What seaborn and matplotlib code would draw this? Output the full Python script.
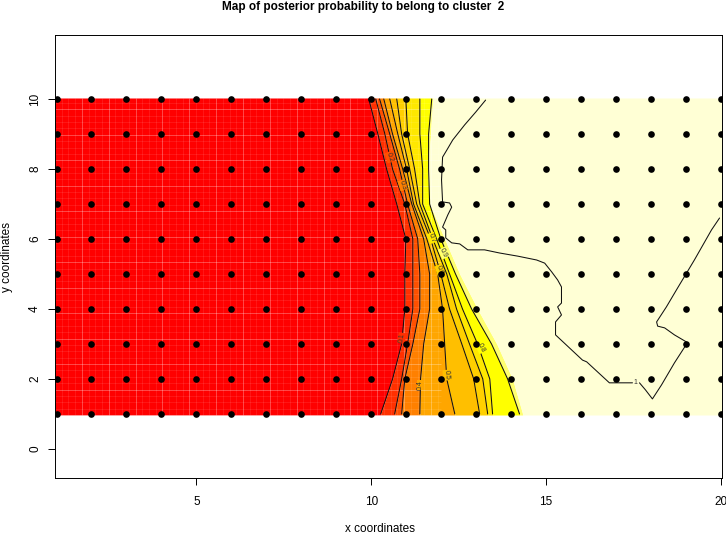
import numpy as np
import pandas as pd
import seaborn as sns
import matplotlib.pyplot as plt

# Grid of sites
site_x = list(range(1, 21))
site_y = list(range(1, 11))

# Contour positions: x of each level, read at y = 10, 9, ... 1
contour_y = [10, 9, 8, 7, 6, 5, 4, 3, 2, 1]
level_01 = [9.93, 10.19, 10.44, 10.73, 10.99, 10.96, 10.96, 10.87, 10.61, 10.27]
level_02 = [10.13, 10.39, 10.61, 10.96, 11.19, 11.19, 11.19, 11.04, 10.87, 10.67]
level_03 = [10.24, 10.53, 10.81, 11.04, 11.33, 11.39, 11.39, 11.19, 10.96, 10.87]
level_04 = [10.36, 10.61, 10.90, 11.16, 11.50, 11.67, 11.67, 11.50, 11.41, 11.39]
level_05 = [10.53, 10.76, 11.01, 11.21, 11.59, 11.90, 12.04, 12.10, 12.16, 12.39]
level_06 = [10.73, 10.87, 11.10, 11.30, 11.70, 11.99, 12.24, 12.59, 12.93, 13.10]
level_07 = [10.99, 11.04, 11.24, 11.39, 11.76, 12.16, 12.44, 12.81, 13.19, 13.33]
level_08 = [11.39, 11.39, 11.47, 11.47, 11.87, 12.24, 12.61, 13.04, 13.39, 13.47]
level_09 = [11.73, 11.64, 11.64, 11.67, 11.99, 12.41, 12.87, 13.44, 13.90, 14.24]
levels = [level_01, level_02, level_03, level_04, level_05, level_06, level_07, level_08, level_09]

# Where the palest colour starts
pale_edge = [11.76, 11.70, 11.61, 11.67, 12.10, 12.53, 13.04, 13.59, 14.04, 14.33]

# Level 1 contour, broken at its label
one_x_a = [13.27, 12.99, 12.67, 12.33, 12.16, 12.04, 12.01, 12.04, 12.24, 12.30, 12.19, 12.04, 12.13,
           12.13, 12.30, 12.53, 12.76, 13.24, 13.67, 14.19, 14.73, 14.96, 15.16, 15.33, 15.44, 15.44,
           15.33, 15.44, 15.27, 15.27, 16.04, 16.16, 16.81, 17.47]
one_y_a = [9.97, 9.63, 9.26, 8.83, 8.54, 8.34, 7.69, 7.06, 7.03, 6.91, 6.69, 6.34, 6.26,
           6.03, 5.89, 5.86, 5.69, 5.69, 5.60, 5.51, 5.40, 5.31, 5.06, 4.83, 4.63, 4.17,
           4.06, 3.83, 3.63, 3.26, 2.54, 2.49, 1.89, 1.89]
one_x_b = [17.67, 17.84, 18.04, 18.30, 18.67, 18.96, 19.01, 18.67, 18.39, 18.19, 18.16, 18.44, 18.76, 19.24, 19.73, 19.96]
one_y_b = [1.89, 1.69, 1.43, 1.83, 2.46, 2.91, 3.06, 3.26, 3.46, 3.51, 3.63, 4.06, 4.60, 5.40, 6.26, 6.60]

# Band colours, left to right
band_colors = ['#FF0000', '#FF3000', '#FF5000', '#FF8000', '#FFA600', '#FFBF00', '#FFD000', '#FFE800', '#FFFF00', '#FFFF70', '#FFFFD5']

# Contour labels
label_text = ['0.1', '0.2', '0.3', '0.4', '0.5', '0.6', '0.7', '0.8', '0.9', '1']
label_x = [10.87, 10.53, 10.90, 11.41, 12.16, 11.96, 11.73, 13.13, 12.07, 17.56]
label_y = [3.17, 8.34, 7.54, 1.83, 2.11, 5.11, 6.03, 2.89, 5.60, 1.89]
label_rot = [80, -72, -72, 90, -85, -70, -70, -65, -65, 0]
label_bg = ['#FF3000', '#FF5000', '#FF8000', '#FFA600', '#FFBF00', '#FFD000', '#FFE800', '#FFFF00', '#FFFF70', '#FFFFD5']

sns.set_style("ticks")
plt.rcParams['font.family'] = ['Liberation Sans', 'DejaVu Sans']
plt.rcParams['text.color'] = 'black'
plt.rcParams['xtick.labelcolor'] = 'black'
plt.rcParams['ytick.labelcolor'] = 'black'

fig = plt.figure(figsize=(7.26, 5.34), dpi=100)
ax = fig.add_axes([55 / 726, 1 - 478 / 534, 667 / 726, 443 / 534])
x_lim = (0.957, 20.03)
y_lim = (-0.83, 11.83)

# Filled bands between the contours
band_y = [10.03] + contour_y + [0.97]
edges = [[x_lim[0]] * len(band_y)]
for level in levels + [pale_edge]:
    edges.append([level[0]] + level + [level[-1]])
edges.append([x_lim[1]] * len(band_y))
for i, color in enumerate(band_colors):
    ax.fill_betweenx(band_y, edges[i], edges[i + 1], color=color, lw=0, zorder=1)

# Faint seams of the raster cells, stronger every fourth one, not seen on the pale part
seam_x = np.arange(0.957, 12, 0.192)
seam_y = np.arange(0.97, 10.03, 0.182)
ax.vlines(seam_x, 0.97, 10.03, color='white', lw=0.5, alpha=0.12, zorder=2)
ax.vlines(seam_x[::4], 0.97, 10.03, color='white', lw=0.7, alpha=0.22, zorder=2)
ax.hlines(seam_y, x_lim[0], 12, color='white', lw=0.5, alpha=0.12, zorder=2)
ax.hlines(seam_y[::4], x_lim[0], 12, color='white', lw=0.7, alpha=0.22, zorder=2)

# Contour lines
for i, level in enumerate(levels):
    line_df = pd.DataFrame({'x': level, 'y': contour_y})
    sns.lineplot(data=line_df, x='x', y='y', sort=False, estimator=None, color='#111111', lw=0.75, ax=ax, zorder=3)
for xs, ys in [(one_x_a, one_y_a), (one_x_b, one_y_b)]:
    sns.lineplot(x=xs, y=ys, sort=False, estimator=None, color='#111111', lw=0.75, ax=ax, zorder=3)

for t, lx, ly, rot, bg in zip(label_text, label_x, label_y, label_rot, label_bg):
    ax.text(lx, ly, t, fontsize=5, rotation=rot, ha='center', va='center', color='#333333', zorder=4,
            bbox=dict(facecolor=bg, edgecolor='none', pad=0.3))

# Sites
sx, sy = np.meshgrid(site_x, site_y)
points = pd.DataFrame({'x': sx.ravel(), 'y': sy.ravel()})
sns.scatterplot(data=points, x='x', y='y', color='black', s=23, linewidth=0, ax=ax, zorder=5)

ax.set_xlim(x_lim)
ax.set_ylim(y_lim)
ax.set_xticks([5, 10, 15, 20])
ax.set_yticks([0, 2, 4, 6, 8, 10])
ax.tick_params(length=5, width=0.7, color='black', labelsize=8.5)
ax.tick_params(axis='x', pad=8)
ax.tick_params(axis='y', pad=5)
plt.setp(ax.get_yticklabels(), rotation=90, va='center')
for spine in ax.spines.values():
    spine.set_visible(True)
    spine.set_linewidth(0.7)
    spine.set_color('black')
ax.set_xlabel('')
ax.set_ylabel('')

fig.text(380 / 726, 1 - 529 / 534, 'x coordinates', fontsize=8.5, ha='center', va='center')
fig.text(7 / 726, 1 - 257 / 534, 'y coordinates', fontsize=8.5, rotation=90, ha='center', va='center')
fig.text(363 / 726, 1 - 7 / 534, 'Map of posterior probability to belong to cluster  2', fontsize=8.5, fontweight='bold', ha='center', va='center')

fig.savefig('out.png', dpi=100)
